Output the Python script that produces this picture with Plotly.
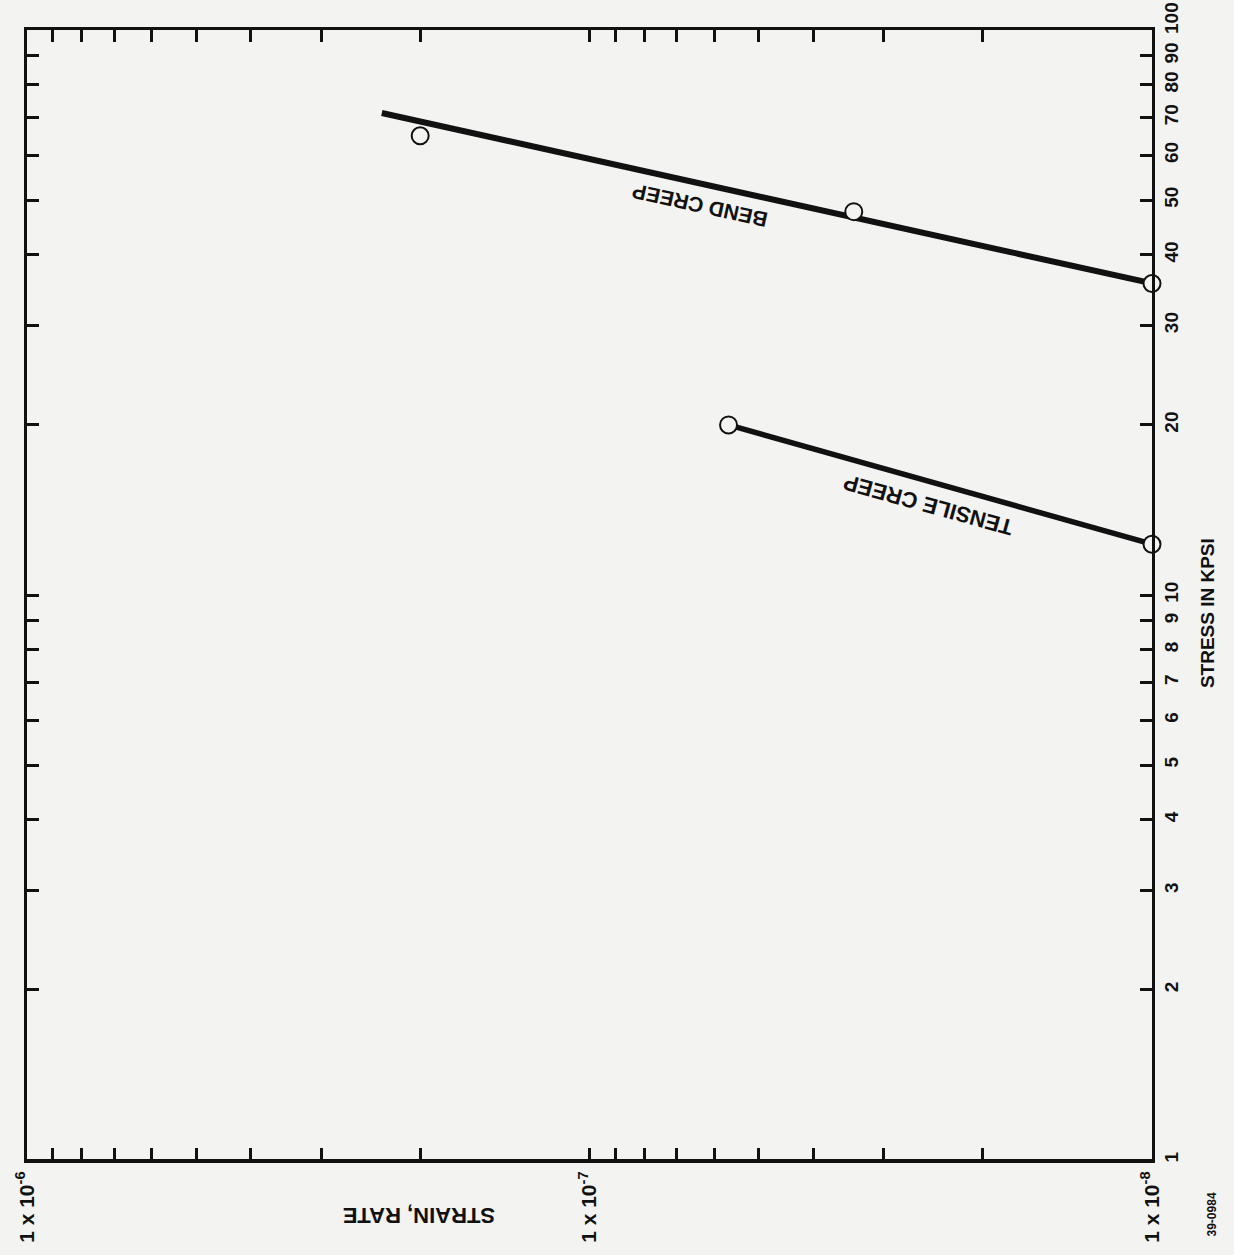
import math
import plotly.graph_objects as go

# ---- data ----
bend_line_strain = [2.34e-7, 1.0e-8]
bend_line_stress = [71.3, 35.6]
bend_pts_strain = [2.0e-7, 3.39e-8, 1.0e-8]
bend_pts_stress = [65.0, 47.7, 35.6]
tensile_strain = [5.66e-8, 1.0e-8]
tensile_stress = [20.0, 12.3]

strain_major = [1e-6, 1e-7, 1e-8]
strain_labels = ["1 x 10<sup>-6</sup>", "1 x 10<sup>-7</sup>", "1 x 10<sup>-8</sup>"]
strain_minor = [9e-7, 8e-7, 7e-7, 6e-7, 5e-7, 4e-7, 3e-7, 2e-7,
                9e-8, 8e-8, 7e-8, 6e-8, 5e-8, 4e-8, 3e-8, 2e-8]
stress_ticks = [1, 2, 3, 4, 5, 6, 7, 8, 9, 10, 20, 30, 40, 50, 60, 70, 80, 90]
stress_labels = [str(v) for v in stress_ticks]
stress_top = 100
grid_strain = [1e-7]
grid_stress = [10]

FONT = "Liberation Sans"
INK = "#111111"
BG = "#f3f3f2"

fig = go.Figure()
fig.add_trace(go.Scatter(x=bend_line_strain, y=bend_line_stress, mode="lines",
                         line=dict(color=INK, width=6), cliponaxis=False, showlegend=False))
fig.add_trace(go.Scatter(x=tensile_strain, y=tensile_stress, mode="lines",
                         line=dict(color=INK, width=5.5), cliponaxis=False, showlegend=False))
fig.add_trace(go.Scatter(x=bend_pts_strain, y=bend_pts_stress, mode="markers",
                         marker=dict(symbol="circle", size=17, color=BG,
                                     line=dict(color=INK, width=2)),
                         cliponaxis=False, showlegend=False))
fig.add_trace(go.Scatter(x=tensile_strain, y=tensile_stress, mode="markers",
                         marker=dict(symbol="circle", size=17, color=BG,
                                     line=dict(color=INK, width=2)),
                         cliponaxis=False, showlegend=False))

for g in grid_strain:
    fig.add_shape(type="line", xref="x", yref="paper", x0=math.log10(g), x1=math.log10(g),
                  y0=0, y1=1, line=dict(color=INK, width=2), layer="below")
for g in grid_stress:
    fig.add_shape(type="line", xref="paper", yref="y", x0=0, x1=1,
                  y0=math.log10(g), y1=math.log10(g), line=dict(color=INK, width=2), layer="below")

axis_common = dict(type="log", ticks="inside", ticklen=12, tickwidth=3, tickcolor=INK,
                   showline=True, linewidth=3, linecolor=INK, mirror="ticks",
                   showgrid=False, zeroline=False, tickangle=-90)

fig.update_layout(
    width=1234, height=1255,
    margin=dict(l=20, r=82, t=30, b=92),
    paper_bgcolor=BG, plot_bgcolor=BG,
    font=dict(family=FONT, color=INK, weight="bold"),
    xaxis=dict(range=[-6, -8], tickmode="array", tickvals=strain_major, ticktext=strain_labels,
               tickfont=dict(family=FONT, size=21, color=INK, weight="bold"),
               minor=dict(tickmode="array", tickvals=strain_minor, ticks="inside",
                          ticklen=12, tickwidth=3, tickcolor=INK, showgrid=False),
               **axis_common),
    yaxis=dict(range=[0, 2], tickmode="array", tickvals=stress_ticks, ticktext=stress_labels,
               side="right", tickfont=dict(family=FONT, size=19, color=INK, weight="bold"),
               **axis_common),
)

def ann(text, x, y, angle, size, xref="paper", yref="paper", yshift=0):
    fig.add_annotation(text=text, x=x, y=y, xref=xref, yref=yref, showarrow=False,
                       textangle=angle, xanchor="center", yanchor="middle", yshift=yshift,
                       font=dict(family=FONT, size=size, color=INK, weight="bold"))

W, H, L, T = 1132, 1133, 20, 30
def px(xp, yp):
    return (xp - L) / W, (T + H - yp) / H

# top stress label, nudged up as in the reference to clear "90"
fig.add_annotation(text=str(stress_top), x=1, y=math.log10(stress_top), xref="paper", yref="y",
                   showarrow=False, textangle=-90, xanchor="center", yanchor="middle",
                   xshift=19, yshift=12,
                   font=dict(family=FONT, size=19, color=INK, weight="bold"))

ann("BEND CREEP", *px(697, 206), 192.4, 21)
ann("TENSILE CREEP", *px(927, 506), 195.5, 22)
ann("STRAIN, RATE", *px(415, 1218), 180, 22)
ann("STRESS IN KPSI", *px(1208, 615), -90, 19)
ann("39-0984", *px(1212, 1218), -90, 12)

fig.write_html("out.html", config={"displayModeBar": False},
               post_script="document.body.style.margin='0px';"
                           "document.body.style.background='%s';" % BG)
